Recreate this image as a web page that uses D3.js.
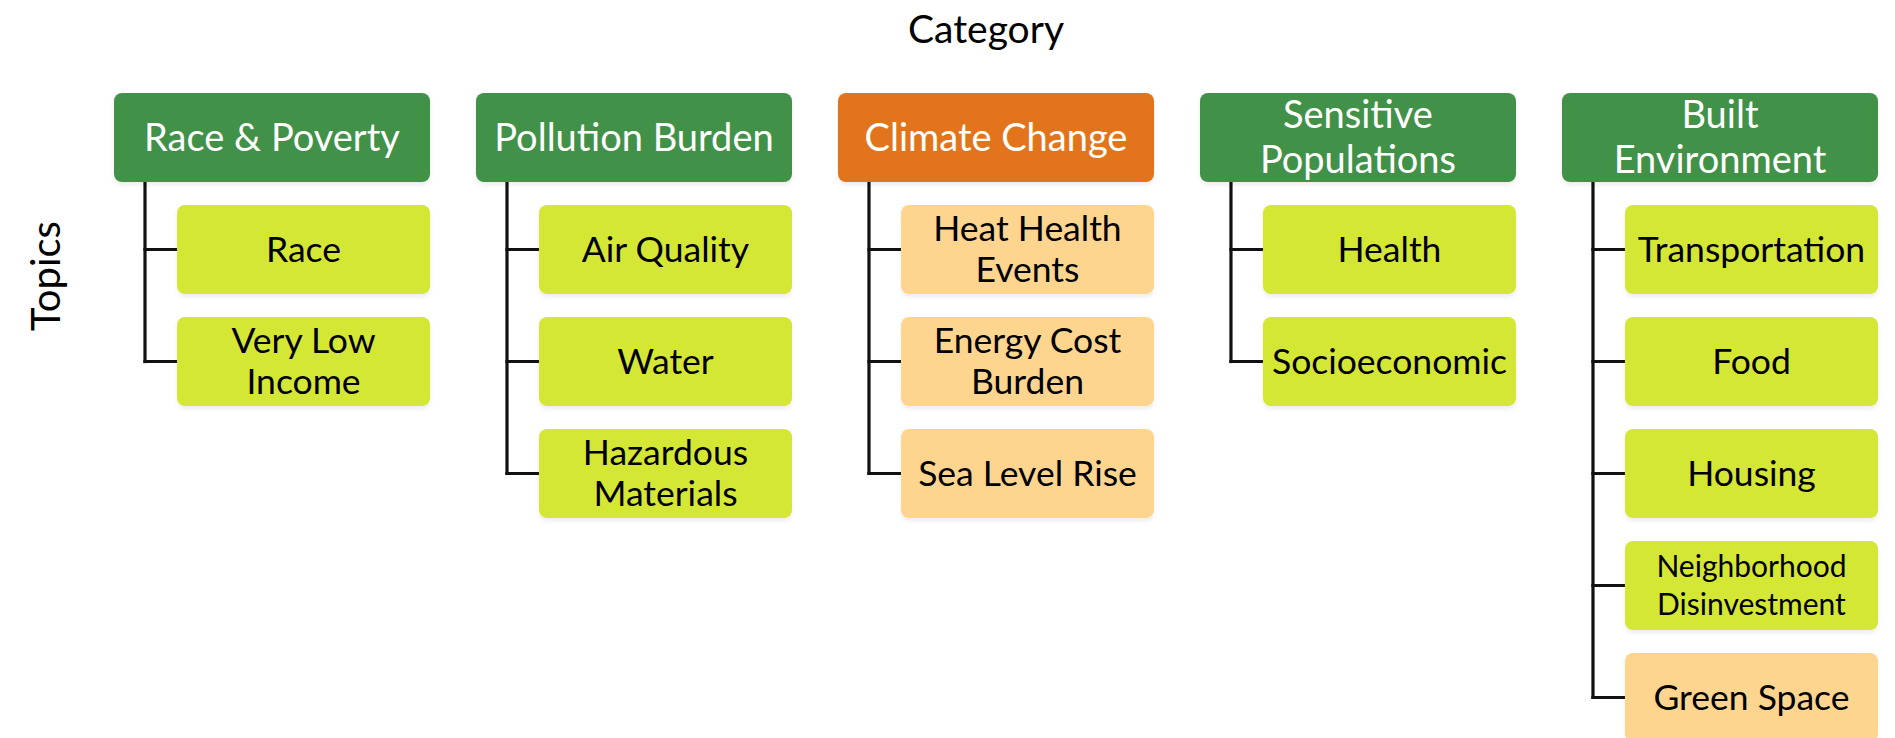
<!DOCTYPE html>
<html>
<head>
<meta charset="utf-8">
<script src="https://cdn.jsdelivr.net/npm/d3@7"></script>
<style>
  html, body { margin: 0; padding: 0; background: #fff; }
  svg { display: block; font-family: Lato, "Open Sans", sans-serif; }
</style>
</head>
<body>
<div id="chart"></div>
<script>
// categories across the top, topics hang under each one
var categories = ["Race & Poverty", "Pollution Burden", "Climate Change", "Sensitive\nPopulations", "Built\nEnvironment"];

var topics = [
    ["Race", "Very Low\nIncome"],
    ["Air Quality", "Water", "Hazardous\nMaterials"],
    ["Heat Health\nEvents", "Energy Cost\nBurden", "Sea Level Rise"],
    ["Health", "Socioeconomic"],
    ["Transportation", "Food", "Housing", "Neighborhood\nDisinvestment", "Green Space"]
];

// which ones are flagged (orange)
var climateCategories = ["Climate Change"];
var climateTopics = ["Heat Health\nEvents", "Energy Cost\nBurden", "Sea Level Rise", "Green Space"];

var width = 1895,
    height = 738;

var colors = {
    header: "#43914a",
    headerHi: "#e2751d",
    topic: "#d5e736",
    topicHi: "#fed58f",
    line: "#111"
};

var svg = d3.select("#chart").append("svg")
    .attr("width", width).attr("height", height);

// faint shadow under the boxes
var defs = svg.append("defs");
defs.append("filter").attr("id", "shadow")
    .attr("x", "-10%").attr("y", "-10%").attr("width", "120%").attr("height", "140%")
  .append("feDropShadow")
    .attr("dx", 0).attr("dy", 3).attr("stdDeviation", 2)
    .attr("flood-color", "#000").attr("flood-opacity", 0.07);

var x = d3.scaleBand()
    .domain(d3.range(categories.length))
    .range([114, 1878])
    .paddingInner(0.127);

var rowCount = d3.max(topics, function(t) { return t.length; });
var y = d3.scaleBand()
    .domain(d3.range(rowCount))
    .range([205, 205 + rowCount * 112 - 23])
    .paddingInner(0.205);

var headerTop = 93,
    headerH = y.bandwidth(),
    lineOffset = 31,
    boxOffset = 63;

// multi-line centred text
function label(sel, text, cx, cy, size, lineH, fill) {
    var lines = text.split("\n");
    var t = sel.append("text")
        .attr("x", cx).attr("y", cy)
        .attr("text-anchor", "middle")
        .attr("font-size", size)
        .attr("fill", fill);
    lines.forEach(function(l, i) {
        t.append("tspan")
            .attr("x", cx)
            .attr("y", cy + (i - (lines.length - 1) / 2) * lineH)
            .attr("dy", "0.35em")
            .text(l);
    });
    return t;
}

svg.append("text")
    .attr("x", 986).attr("y", 43)
    .attr("text-anchor", "middle")
    .attr("font-size", 39)
    .attr("fill", "#000")
    .text("Category");

svg.append("text")
    .attr("transform", "translate(60,276) rotate(-90)")
    .attr("text-anchor", "middle")
    .attr("font-size", 40)
    .attr("fill", "#000")
    .text("Topics");

var cols = svg.selectAll("g.col")
    .data(categories)
    .enter().append("g")
    .attr("class", "col");

cols.each(function(cat, i) {
    var g = d3.select(this),
        hx = x(i),
        items = topics[i];

    // connector lines
    var lx = hx + lineOffset,
        lastMid = y(items.length - 1) + y.bandwidth() / 2;
    g.append("line")
        .attr("x1", lx).attr("x2", lx)
        .attr("y1", headerTop + headerH - 2).attr("y2", lastMid + 1.6)
        .attr("stroke", colors.line).attr("stroke-width", 3.2);

    items.forEach(function(tp, j) {
        var mid = y(j) + y.bandwidth() / 2;
        g.append("line")
            .attr("x1", lx - 1.6).attr("x2", hx + boxOffset)
            .attr("y1", mid).attr("y2", mid)
            .attr("stroke", colors.line).attr("stroke-width", 3.2);
    });

    g.append("rect")
        .attr("x", hx).attr("y", headerTop)
        .attr("width", x.bandwidth()).attr("height", headerH)
        .attr("rx", 8)
        .attr("fill", climateCategories.indexOf(cat) >= 0 ? colors.headerHi : colors.header)
        .attr("filter", "url(#shadow)");
    label(g, cat, hx + x.bandwidth() / 2, headerTop + headerH / 2, 38, 45, "#fff");

    var boxW = x.bandwidth() - boxOffset;
    items.forEach(function(tp, j) {
        g.append("rect")
            .attr("x", hx + boxOffset).attr("y", y(j))
            .attr("width", boxW).attr("height", y.bandwidth())
            .attr("rx", 8)
            .attr("fill", climateTopics.indexOf(tp) >= 0 ? colors.topicHi : colors.topic)
            .attr("filter", "url(#shadow)");
        var small = tp.indexOf("Neighborhood") === 0;
        label(g, tp, hx + boxOffset + boxW / 2, y(j) + y.bandwidth() / 2,
              small ? 30 : 35.5, small ? 38 : 41, "#000");
    });
});
</script>
</body>
</html>
